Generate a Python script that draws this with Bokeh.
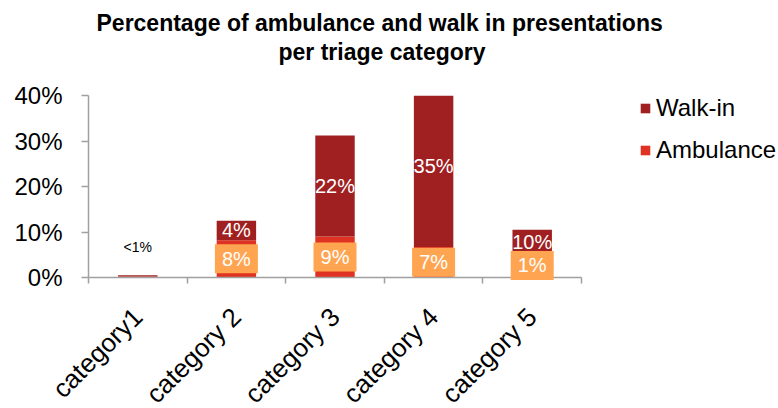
import math
from bokeh.plotting import figure
from bokeh.models import (ColumnDataSource, Range1d, FixedTicker, Legend, LegendItem, Title)
from bokeh.core.properties import value
from bokeh.embed import file_html
from bokeh.resources import INLINE

# ---- data ----
categories = ["category1", "category 2", "category 3", "category 4", "category 5"]
ambulance = [0.2, 8.2, 9.0, 6.7, 5.3]
walk_in = [0.3, 4.3, 22.2, 35.8, 5.2]
ambulance_labels = ["", "8%", "9%", "7%", "1%"]
walk_in_labels = ["<1%", "4%", "22%", "35%", "10%"]
y_ticks = [0, 10, 20, 30, 40]
y_tick_labels = ["0%", "10%", "20%", "30%", "40%"]
title_lines = ["Percentage of ambulance and walk in presentations", "per triage category"]

FONT = "Liberation Sans"
WALK = "#A01F21"
AMB = "#E03222"
BOX = "#FFA552"
AXIS = "#A0A0A0"

n = len(categories)
xs = [i + 0.5 for i in range(n)]
totals = [a + w for a, w in zip(ambulance, walk_in)]

src = ColumnDataSource(dict(x=xs, ambulance=ambulance, walk_in=walk_in))

p = figure(frame_width=493, frame_height=182,
           x_range=Range1d(0, n), y_range=Range1d(0, 40),
           output_backend="svg", toolbar_location=None, title=None,
           min_border_left=88, min_border_top=95, min_border_right=189,
           min_border_bottom=128)

# title: two centred lines, with a spacer between title and plot area
spacer = Title(text=" ", text_font_size="1px", standoff=27)
t2 = Title(text=title_lines[1], align="left", offset=190, standoff=1,
           text_font=FONT, text_font_size="23px", text_font_style="bold",
           text_color="black")
t1 = Title(text=title_lines[0], align="left", offset=8, standoff=1,
           text_font=FONT, text_font_size="23px", text_font_style="bold",
           text_color="black")
p.add_layout(spacer, "above")
p.add_layout(t2, "above")
p.add_layout(t1, "above")

renderers = p.vbar_stack(["ambulance", "walk_in"], x="x", width=0.4,
                         color=[AMB, WALK], line_color=None, source=src)

# ambulance label boxes + text
amb_idx = [i for i in range(n) if ambulance_labels[i]]
amb_src = ColumnDataSource(dict(
    x=[xs[i] for i in amb_idx],
    y=[ambulance[i] / 2 for i in amb_idx],
    t=[ambulance_labels[i] for i in amb_idx]))
p.rect(x="x", y="y", width=43, height=29, width_units="screen", height_units="screen",
       fill_color=BOX, line_color=None, source=amb_src, level="annotation")
p.text(x="x", y="y", text="t", source=amb_src, text_color="white",
       text_font=value(FONT), text_font_size="20px", text_align="center",
       text_baseline="middle", level="annotation")

# walk-in labels (inside bar when tall enough, otherwise above the bar)
in_idx = [i for i in range(n) if walk_in[i] >= 2]
out_idx = [i for i in range(n) if walk_in[i] < 2]
in_src = ColumnDataSource(dict(
    x=[xs[i] for i in in_idx],
    y=[ambulance[i] + walk_in[i] / 2 for i in in_idx],
    t=[walk_in_labels[i] for i in in_idx]))
p.text(x="x", y="y", text="t", source=in_src, text_color="white",
       text_font=value(FONT), text_font_size="20px", text_align="center",
       text_baseline="middle", level="annotation")
out_src = ColumnDataSource(dict(
    x=[xs[i] for i in out_idx],
    y=[totals[i] for i in out_idx],
    t=[walk_in_labels[i] for i in out_idx]))
p.text(x="x", y="y", text="t", source=out_src, text_color="black",
       text_font=value(FONT), text_font_size="14px", text_align="center",
       text_baseline="bottom", y_offset=-20, level="annotation")

# axes
xa = p.xaxis[0]
xa.ticker = FixedTicker(ticks=xs, minor_ticks=list(range(n + 1)))
xa.major_label_overrides = {x: c for x, c in zip(xs, categories)}
xa.major_tick_line_color = None
xa.major_tick_in = 0
xa.major_tick_out = 0
xa.minor_tick_line_color = AXIS
xa.minor_tick_line_width = 1.5
xa.minor_tick_in = 0
xa.minor_tick_out = 6
xa.axis_line_color = AXIS
xa.axis_line_width = 1.5
xa.major_label_orientation = math.pi / 4
xa.major_label_standoff = 29
xa.major_label_text_font = FONT
xa.major_label_text_font_size = "26px"
xa.major_label_text_color = "black"

ya = p.yaxis[0]
ya.ticker = FixedTicker(ticks=y_ticks)
ya.major_label_overrides = {t: l for t, l in zip(y_ticks, y_tick_labels)}
ya.major_tick_line_color = AXIS
ya.major_tick_line_width = 1.5
ya.major_tick_in = 0
ya.major_tick_out = 7
ya.minor_tick_line_color = None
ya.axis_line_color = AXIS
ya.axis_line_width = 1.5
ya.major_label_standoff = 19
ya.major_label_text_font = FONT
ya.major_label_text_font_size = "24px"
ya.major_label_text_color = "black"

p.xgrid.grid_line_color = None
p.ygrid.grid_line_color = None
p.outline_line_color = None

legend = Legend(items=[LegendItem(label="Walk-in", renderers=[renderers[1]]),
                       LegendItem(label="Ambulance", renderers=[renderers[0]])],
                location=(58, 113), margin=0, padding=0,
                border_line_color=None, background_fill_alpha=0,
                glyph_width=12, glyph_height=12, label_standoff=5,
                label_height=26, spacing=14,
                label_text_font=FONT, label_text_font_size="24px",
                label_text_color="black")
p.add_layout(legend, "right")

open("out.html", "w").write(file_html(p, INLINE))
